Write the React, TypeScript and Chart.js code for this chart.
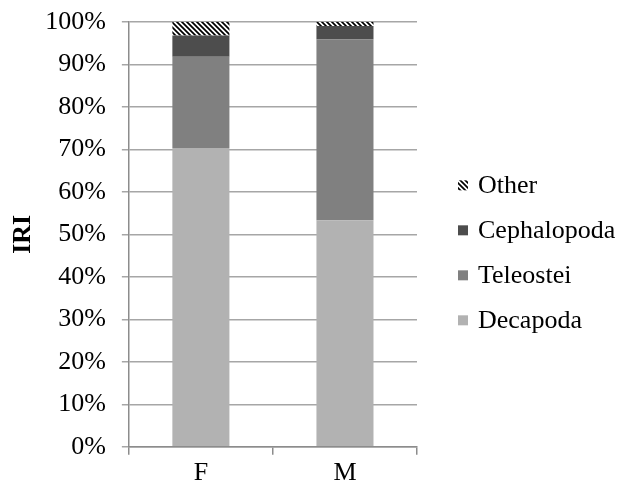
import React, { useEffect, useRef } from 'react';
import { Chart, registerables } from 'chart.js';

Chart.register(...registerables);

const FONT = "'Times New Roman', 'Liberation Serif', serif";

const categories = ['F', 'M'];
const seriesNames = ['Decapoda', 'Teleostei', 'Cephalopoda', 'Other'];
const decapoda = [70.3, 53.3];
const teleostei = [21.5, 42.6];
const cephalopoda = [5.0, 3.1];
const other = [3.2, 1.0];
const seriesColors = ['#b2b2b2', '#808080', '#4d4d4d'];
const yAxisTitle = 'IRI';

function makeHatch(): CanvasPattern | string {
  const s = 5;
  const c = document.createElement('canvas');
  c.width = s;
  c.height = s;
  const g = c.getContext('2d');
  if (!g) return '#000';
  g.fillStyle = '#ffffff';
  g.fillRect(0, 0, s, s);
  g.strokeStyle = '#000000';
  g.lineWidth = 1.7;
  g.beginPath();
  g.moveTo(-1, -1);
  g.lineTo(s + 1, s + 1);
  g.moveTo(-1, s - 1);
  g.lineTo(1, s + 1);
  g.moveTo(s - 1, -1);
  g.lineTo(s + 1, 1);
  g.stroke();
  return g.createPattern(c, 'repeat') || '#000';
}

const sideLegend = {
  id: 'sideLegend',
  afterDraw(chart: any) {
    const { ctx, chartArea } = chart;
    const ds = chart.data.datasets;
    const n = ds.length;
    const spacing = 45;
    const x0 = chartArea.right + 41;
    const cy = (chartArea.top + chartArea.bottom) / 2 + 18.5;
    ctx.save();
    ctx.font = `26px ${FONT}`;
    ctx.textBaseline = 'middle';
    ctx.textAlign = 'left';
    for (let k = 0; k < n; k++) {
      const d = ds[n - 1 - k];
      const y = cy + (k - (n - 1) / 2) * spacing;
      ctx.fillStyle = d.backgroundColor;
      ctx.fillRect(x0, y - 5, 10, 10);
      ctx.fillStyle = '#000';
      ctx.fillText(d.label, x0 + 20, y + 1);
    }
    ctx.restore();
  },
};

export default function App() {
  const ref = useRef<HTMLCanvasElement | null>(null);

  useEffect(() => {
    if (!ref.current) return;
    const hatch = makeHatch();
    const values = [decapoda, teleostei, cephalopoda, other];
    const chart = new Chart(ref.current, {
      type: 'bar',
      data: {
        labels: categories,
        datasets: seriesNames.map((name, i) => ({
          label: name,
          data: values[i],
          backgroundColor: i < 3 ? seriesColors[i] : (hatch as any),
          borderWidth: 0,
          categoryPercentage: 0.8,
          barPercentage: 0.495,
        })),
      },
      options: {
        animation: false,
        responsive: true,
        maintainAspectRatio: false,
        layout: { padding: { left: 4, right: 200, top: 13, bottom: -5 } },
        plugins: {
          legend: { display: false },
          tooltip: { enabled: false },
        },
        scales: {
          x: {
            stacked: true,
            grid: {
              display: true,
              drawOnChartArea: false,
              drawTicks: true,
              tickLength: 8,
              color: '#8c8c8c',
              lineWidth: 1.5,
              offset: true,
            },
            border: { display: true, color: '#8c8c8c', width: 1.5 },
            ticks: {
              color: '#000',
              font: { family: FONT, size: 26 },
              padding: 3,
            },
          },
          y: {
            stacked: true,
            min: 0,
            max: 100,
            grid: {
              color: '#a6a6a6',
              lineWidth: 1.5,
              drawTicks: true,
              tickLength: 7,
            },
            border: { display: true, color: '#8c8c8c', width: 1.5 },
            ticks: {
              stepSize: 10,
              color: '#000',
              font: { family: FONT, size: 26, lineHeight: 0.45 },
              padding: 16,
              callback: (v: any) => `${v}%`,
            },
            title: {
              display: true,
              text: yAxisTitle,
              color: '#000',
              font: { family: FONT, size: 26, weight: 'bold' },
              padding: { top: 4, bottom: -10 },
            },
          },
        },
      },
      plugins: [sideLegend],
    });
    return () => chart.destroy();
  }, []);

  return (
    <div style={{ position: 'absolute', left: 0, top: 0, width: 617, height: 487, background: '#fff' }}>
      <canvas ref={ref} />
    </div>
  );
}
